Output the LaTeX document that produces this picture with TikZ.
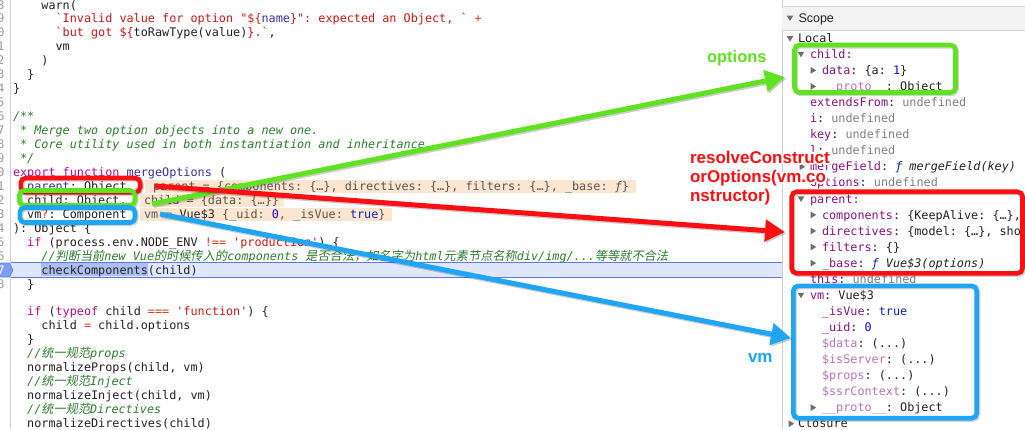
\documentclass[tikz,border=0pt]{standalone}
\usepackage{fontspec}
\setmainfont{Liberation Sans}
\setmonofont{DejaVu Sans Mono}
\newfontfamily\cjkit[FakeSlant=0.18]{Noto Sans CJK SC}
\usetikzlibrary{arrows.meta}
\definecolor{kw}{HTML}{AA0D91}
\definecolor{str}{HTML}{C41A16}
\definecolor{cmt}{HTML}{2B7D2B}
\definecolor{num}{HTML}{1C00CF}
\definecolor{op}{HTML}{CF3A1C}
\definecolor{defc}{HTML}{3B2EA0}
\definecolor{txt}{HTML}{222222}
\definecolor{ann}{HTML}{555555}
\definecolor{annbg}{HTML}{FDE6CF}
\definecolor{prop}{HTML}{881280}
\definecolor{propl}{HTML}{B973B9}
\definecolor{undef}{HTML}{808080}
\definecolor{kwt}{HTML}{0D22AA}
\definecolor{gbox}{HTML}{5FE220}
\definecolor{rbox}{HTML}{FC0F12}
\definecolor{bbox}{HTML}{1EA6F4}
\definecolor{hlbg}{HTML}{E0E7FC}
\definecolor{hlline}{HTML}{5A7AEA}
\definecolor{selbg}{HTML}{AEBDF2}
\definecolor{gutter}{HTML}{9A9A9A}
\definecolor{sep}{HTML}{D0D0D0}
\definecolor{tri}{HTML}{6E6E6E}
\definecolor{bpfill}{HTML}{7B9EF0}
\definecolor{hdrbg}{HTML}{F3F3F3}
\newcommand\codefont{\ttfamily\fontsize{11.8pt}{14pt}\selectfont}
\newcommand\zh[1]{{\cjkit\fontsize{12.2pt}{14pt}\selectfont #1}}
\newcommand\codeln[3]{\node[code] (L#1) at ({13+7.1*#2},{9+13.95*(#1-1)}) {#3};}
\newcommand\rrow[4]{\node[rp] (#1) at (#2,{#3+4.2}) {#4};}
\newcommand\tdown[2]{\fill[tri] (#1-3.3,#2-2.4) -- (#1+3.3,#2-2.4) -- (#1,#2+3) -- cycle;}
\newcommand\tright[2]{\fill[tri] (#1-2.4,#2-3.4) -- (#1-2.4,#2+3.4) -- (#1+3.2,#2) -- cycle;}
\newcommand\halotext[5]{%
  \foreach \a in {0,30,...,330}{\node[lbl,font=#5,text=white] at ([shift={(\a:2)}]#2) {#4};}
  \node[lbl,font=#5,text=#3] (#1) at (#2) {#4};}
\begin{document}
\begin{tikzpicture}[x=1pt,y=-1pt,
  every node/.style={inner sep=0pt,outer sep=0pt},
  code/.style={anchor=base west,font=\codefont,text=txt},
  annot/.style={anchor=base west,font=\codefont,text=ann},
  lnum/.style={anchor=base east,font=\codefont,text=gutter},
  rp/.style={anchor=base west,font=\codefont,text=txt},
  lbl/.style={anchor=base west},
  hbox/.style={line width=4.6pt,rounded corners=5pt},
  hshadow/.style={line width=4.6pt,rounded corners=5pt,draw=black,opacity=0.18,transform canvas={xshift=1.3pt,yshift=-1.3pt}},
  arr/.style={line width=5pt,-{Triangle[length=20pt,width=21pt]}},
  ashadow/.style={line width=5pt,-{Triangle[length=20pt,width=21pt]},draw=black,fill=black,opacity=0.2,transform canvas={xshift=1.5pt,yshift=-1.5pt}}]
\useasboundingbox (0,0) rectangle (1025,429);
\fill[white] (0,0) rectangle (1025,429);

% ---------- editor ----------
% current line highlight
\fill[hlbg] (10,262) rectangle (782,277);
\draw[hlline,line width=0.8pt] (10,262) -- (782,262) (10,277) -- (782,277);
\fill[selbg] (41.4,263) rectangle (148,276.4);
% inline value backgrounds
\fill[annbg] (145,179.8) rectangle (636,192.8);
\fill[annbg] (140,193.8) rectangle (284,206.8);
\fill[annbg] (140,207.8) rectangle (392,220.8);
% gutter
\draw[sep,line width=0.8pt] (10,0) -- (10,429);
\foreach \i in {1,...,19,21,...,31}{%
  \pgfmathtruncatemacro\d{mod(\i+7,10)}%
  \node[lnum] (n\i) at (4.4,{9+13.95*(\i-1)}) {\d};}
\fill[bpfill,draw=hlline,line width=0.6pt] (-1,263) -- (9.5,263) -- (13,270) -- (9.5,277) -- (-1,277) -- cycle;
\node[lnum,text=white] (n20) at (4.8,{9+13.95*19}) {7};

% code lines
\codeln{1}{4}{warn(}
\codeln{2}{6}{\textcolor{str}{`Invalid value for option "\$\{}\textcolor{defc}{name}\textcolor{str}{\}": expected an Object, `} \textcolor{op}{+}}
\codeln{3}{6}{\textcolor{str}{`but got \$\{}toRawType(value)\textcolor{str}{\}.`},}
\codeln{4}{6}{vm}
\codeln{5}{4}{)}
\codeln{6}{2}{\}}
\codeln{7}{0}{\}}
\codeln{9}{0}{{\itshape\color{cmt}/**}}
\codeln{10}{1}{{\itshape\color{cmt}* Merge two option objects into a new one.}}
\codeln{11}{1}{{\itshape\color{cmt}* Core utility used in both instantiation and inheritance}}
\codeln{12}{1}{{\itshape\color{cmt}*/}}
\codeln{13}{0}{\textcolor{kw}{export} \textcolor{kw}{function} \textcolor{defc}{mergeOptions} (}
\codeln{14}{2}{\textcolor{defc}{parent}: Object,}
\codeln{15}{2}{child: Object,}
\codeln{16}{2}{vm\textcolor{op}{?}: Component}
\codeln{17}{0}{): Object \{}
\codeln{18}{2}{\textcolor{kw}{if} (process.env.NODE\_ENV \textcolor{op}{!==} \textcolor{str}{'production'}) \{}
\codeln{19}{4}{{\itshape\color{cmt}//\zh{判断当前}new Vue\zh{的时候传入的}components \zh{是否合法，如名字为}html\zh{元素节点名称}div/img/...\zh{等等就不合法}}}
\codeln{20}{4}{checkComponents(child)}
\codeln{21}{2}{\}}
\codeln{23}{2}{\textcolor{kw}{if} (\textcolor{kw}{typeof} child \textcolor{op}{===} \textcolor{str}{'function'}) \{}
\codeln{24}{4}{child \textcolor{op}{=} child.options}
\codeln{25}{2}{\}}
\codeln{26}{2}{{\itshape\color{cmt}//\zh{统一规范}props}}
\codeln{27}{2}{normalizeProps(child, vm)}
\codeln{28}{2}{{\itshape\color{cmt}//\zh{统一规范}Inject}}
\codeln{29}{2}{normalizeInject(child, vm)}
\codeln{30}{2}{{\itshape\color{cmt}//\zh{统一规范}Directives}}
\codeln{31}{2}{normalizeDirectives(child)}
% inline values
\node[annot] (A14) at (153,{9+13.95*13}) {parent = \{components: \{…\}, directives: \{…\}, filters: \{…\}, \_base: {\itshape ƒ}\}};
\node[annot] (A15) at (144,{9+13.95*14}) {child = \{data: \{…\}\}};
\node[annot] (A16) at (144,{9+13.95*15}) {vm = \textcolor{txt}{Vue\$3} \{\_uid: \textcolor{num}{0}, \_isVue: \textcolor{kwt}{true}\}};

% ---------- scope panel ----------
\fill[white] (782,0) rectangle (1025,429);
\draw[sep,line width=0.8pt] (782,0) -- (782,429);
\fill[hdrbg] (782,6) rectangle (1025,30);
\draw[sep,line width=0.7pt] (782,6) -- (1025,6) (782,30) -- (1025,30);
\tdown{790}{18}
\node[lbl,font=\fontsize{12.5pt}{14pt}\selectfont,text=txt] (scope) at (798.5,22.4) {Scope};
\tdown{790}{38.5}
\node[rp] (local) at (798,42.7) {Local};
\def\rk#1{\fpeval{54.3+16.06*#1}}
\tdown{801}{\rk{0}}   \rrow{r0}{810}{\rk{0}}{\textcolor{prop}{child:}}
\tright{813}{\rk{1}}  \rrow{r1}{822}{\rk{1}}{\textcolor{prop}{data}: \{a: \textcolor{num}{1}\}}
\tright{813}{\rk{2}}  \rrow{r2}{822}{\rk{2}}{\textcolor{propl}{\_\_proto\_\_}: Object}
\rrow{r3}{810}{\rk{3}}{\textcolor{prop}{extendsFrom}: \textcolor{undef}{undefined}}
\rrow{r4}{810}{\rk{4}}{\textcolor{prop}{i}: \textcolor{undef}{undefined}}
\rrow{r5}{810}{\rk{5}}{\textcolor{prop}{key}: \textcolor{undef}{undefined}}
\rrow{r6}{810}{\rk{6}}{\textcolor{prop}{l}: \textcolor{undef}{undefined}}
\tright{802}{\rk{7}}  \rrow{r7}{810}{\rk{7}}{\textcolor{prop}{mergeField}: \textcolor{kwt}{\itshape ƒ} {\itshape mergeField(key)}}
\rrow{r8}{810}{\rk{8}}{\textcolor{prop}{options}: \textcolor{undef}{undefined}}
\tdown{801}{\rk{9}}   \rrow{r9}{810}{\rk{9}}{\textcolor{prop}{parent:}}
\tright{813}{\rk{10}} \rrow{r10}{822}{\rk{10}}{\textcolor{prop}{components}: \{KeepAlive: \{…\},}
\tright{813}{\rk{11}} \rrow{r11}{822}{\rk{11}}{\textcolor{prop}{directives}: \{model: \{…\}, show}
\tright{813}{\rk{12}} \rrow{r12}{822}{\rk{12}}{\textcolor{prop}{filters}: \{\}}
\tright{813}{\rk{13}} \rrow{r13}{822}{\rk{13}}{\textcolor{prop}{\_base}: \textcolor{kwt}{\itshape ƒ} {\itshape Vue\$3(options)}}
\rrow{r14}{810}{\rk{14}}{\textcolor{prop}{this}: \textcolor{undef}{undefined}}
\tdown{801}{\rk{15}}  \rrow{r15}{810}{\rk{15}}{\textcolor{prop}{vm}: Vue\$3}
\rrow{r16}{822}{\rk{16}}{\textcolor{prop}{\_isVue}: \textcolor{kwt}{true}}
\rrow{r17}{822}{\rk{17}}{\textcolor{prop}{\_uid}: \textcolor{num}{0}}
\rrow{r18}{822}{\rk{18}}{\textcolor{propl}{\$data}: (...)}
\rrow{r19}{822}{\rk{19}}{\textcolor{propl}{\$isServer}: (...)}
\rrow{r20}{822}{\rk{20}}{\textcolor{propl}{\$props}: (...)}
\rrow{r21}{822}{\rk{21}}{\textcolor{propl}{\$ssrContext}: (...)}
\tright{813}{\rk{22}} \rrow{r22}{822}{\rk{22}}{\textcolor{propl}{\_\_proto\_\_}: Object}
\tright{791}{\rk{23}} \rrow{r23}{798}{\rk{23}}{Closure}

% ---------- highlight boxes ----------
\draw[hshadow] (20.8,178) rectangle (140.2,192.3);
\draw[hbox,rbox] (20.8,178) rectangle (140.2,192.3);
\draw[hshadow] (19.2,190.5) rectangle (135,205.3);
\draw[hbox,gbox] (19.2,190.5) rectangle (135,205.3);
\draw[hshadow] (19.8,207.5) rectangle (135,222.5);
\draw[hbox,bbox] (19.8,207.5) rectangle (135,222.5);

\draw[hshadow] (794.5,45) rectangle (955.5,92.5);
\draw[hbox,gbox] (794.5,45) rectangle (955.5,92.5);
\draw[hshadow] (791.7,191.7) rectangle (1022.5,273.3);
\draw[hbox,rbox] (791.7,191.7) rectangle (1022.5,273.3);
\draw[hshadow] (793.3,285.8) rectangle (976.7,418.2);
\draw[hbox,bbox] (793.3,285.8) rectangle (976.7,418.2);

% ---------- arrows ----------
\coordinate (gs) at (152,204);
\coordinate (gt) at (785,77);
\coordinate (rs) at (155,186);
\coordinate (rt) at (785,232);
\coordinate (bs) at (160,214);
\coordinate (bt) at (791,338);
\draw[ashadow] (gs) -- (gt);
\draw[arr,gbox] (gs) -- (gt);
\draw[ashadow] (rs) -- (rt);
\draw[arr,rbox] (rs) -- (rt);
\draw[ashadow] (bs) -- (bt);
\draw[arr,bbox] (bs) -- (bt);

% ---------- labels ----------
\halotext{lopt}{707,62}{gbox}{options}{\bfseries\fontsize{16.5pt}{18pt}\selectfont}
\halotext{lres1}{690,163}{rbox}{resolveConstruct}{\bfseries\fontsize{17pt}{19pt}\selectfont}
\halotext{lres2}{690,182}{rbox}{orOptions(vm.co}{\bfseries\fontsize{17pt}{19pt}\selectfont}
\halotext{lres3}{690,201}{rbox}{nstructor)}{\bfseries\fontsize{17pt}{19pt}\selectfont}
\halotext{lvm}{748,362}{bbox}{vm}{\bfseries\fontsize{17pt}{19pt}\selectfont}
\end{tikzpicture}
\end{document}
